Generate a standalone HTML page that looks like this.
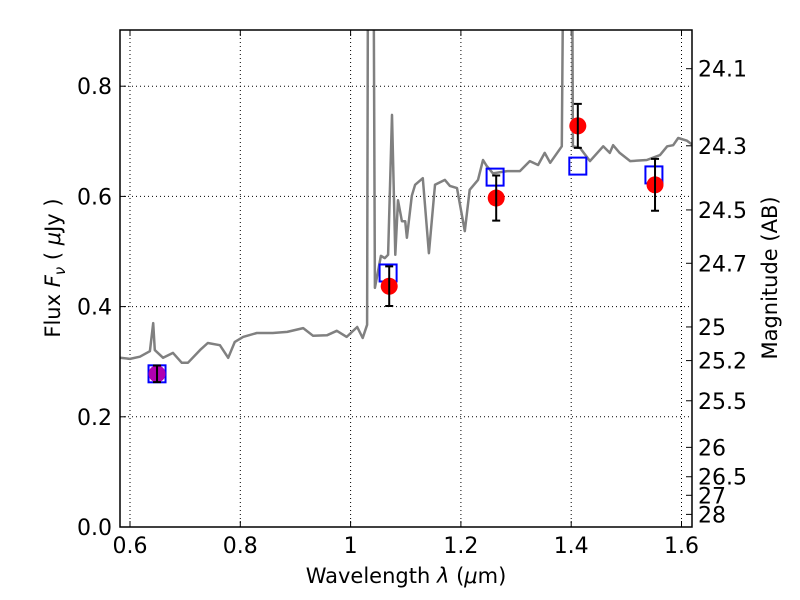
<!DOCTYPE html>
<html><head><meta charset="utf-8">
<style>
html,body{margin:0;padding:0;background:#fff;}
svg{display:block;font-family:"DejaVu Sans","Liberation Sans",sans-serif;}
</style></head>
<body>
<svg id="chart" width="800" height="600" xmlns="http://www.w3.org/2000/svg">
<rect width="800" height="600" fill="#fff"/>
</svg>
<script>
const specLam=[0.582,0.600,0.618,0.636,0.642,0.645,0.660,0.678,0.694,0.705,0.727,0.741,0.763,0.778,0.790,0.805,0.830,0.859,0.885,0.914,0.932,0.957,0.975,0.993,1.012,1.022,1.030,1.032,1.041,1.044,1.055,1.062,1.068,1.075,1.081,1.086,1.093,1.099,1.102,1.111,1.117,1.131,1.142,1.153,1.171,1.180,1.193,1.207,1.216,1.231,1.240,1.247,1.258,1.284,1.307,1.325,1.340,1.352,1.362,1.383,1.387,1.401,1.403,1.416,1.434,1.458,1.470,1.476,1.488,1.507,1.537,1.561,1.574,1.585,1.594,1.610,1.621];
const specFlux=[0.307,0.305,0.309,0.319,0.370,0.321,0.307,0.316,0.298,0.298,0.321,0.334,0.330,0.307,0.336,0.345,0.352,0.352,0.354,0.361,0.347,0.348,0.356,0.345,0.363,0.343,0.367,1.2,1.2,0.434,0.492,0.488,0.494,0.748,0.494,0.593,0.555,0.555,0.525,0.601,0.621,0.633,0.497,0.621,0.630,0.619,0.615,0.537,0.612,0.630,0.666,0.655,0.642,0.646,0.646,0.664,0.657,0.679,0.661,0.691,1.2,1.2,0.691,0.688,0.664,0.691,0.679,0.693,0.679,0.664,0.666,0.675,0.691,0.693,0.706,0.701,0.693];
const obsLam=[0.649,1.070,1.264,1.412,1.552];
const obsFlux=[0.278,0.437,0.597,0.728,0.621];
const obsErr=[0.015,0.036,0.041,0.040,0.047];
const obsColor=['#b000b0','red','red','red','red'];
const modLam=[0.649,1.068,1.262,1.412,1.550];
const modFlux=[0.278,0.461,0.635,0.655,0.639];
const xTicks=[0.6,0.8,1.0,1.2,1.4,1.6];
const xTickLabels=['0.6','0.8','1','1.2','1.4','1.6'];
const yTicks=[0.0,0.2,0.4,0.6,0.8];
const yTickLabels=['0.0','0.2','0.4','0.6','0.8'];
const magTicks=[24.1,24.3,24.5,24.7,25,25.2,25.5,26,26.5,27,28];

const L=120,R=692,T=30,B=527;
const X=v=>130+(v-0.6)*551.5;
const Y=v=>527-v*551;
const svg=document.getElementById('chart');
const NS='http://www.w3.org/2000/svg';
function el(tag,attrs,parent){const e=document.createElementNS(NS,tag);for(const k in attrs)e.setAttribute(k,attrs[k]);(parent||svg).appendChild(e);return e;}

const defs=el('defs',{});
const cp=el('clipPath',{id:'clip'},defs);
el('rect',{x:L,y:T,width:R-L,height:B-T},cp);

xTicks.forEach((v,i)=>{
 const g=el('line',{x1:X(v),x2:X(v),y1:T,y2:B,stroke:'#000','stroke-width':1,'stroke-dasharray':'1,3'});
 
 
 el('line',{x1:X(v),x2:X(v),y1:B,y2:B-6,stroke:'#000'});
 el('line',{x1:X(v),x2:X(v),y1:T,y2:T+6,stroke:'#000'});
 const t=el('text',{x:X(v),y:B+26,'font-size':22,'text-anchor':'middle'});
 t.textContent=xTickLabels[i];
 
 
});
yTicks.forEach((v,i)=>{
 const g=el('line',{x1:L,x2:R,y1:Y(v),y2:Y(v),stroke:'#000','stroke-width':1,'stroke-dasharray':'1,3'});
 
 
 el('line',{x1:L,x2:L+6,y1:Y(v),y2:Y(v),stroke:'#000'});
 const t=el('text',{x:L-8,y:Y(v)+8,'font-size':22,'text-anchor':'end'});
 t.textContent=yTickLabels[i];
 
 
});
magTicks.forEach(m=>{
 const f=Math.pow(10,(23.9-m)/2.5);
 const y=Y(f);
 el('line',{x1:R,x2:R-6,y1:y,y2:y,stroke:'#000'});
 const t=el('text',{x:R+6,y:y+8,'font-size':22});
 t.textContent=String(m);
 
 
});

const g=el('g',{'clip-path':'url(#clip)'});
const pts=specLam.map((l,i)=>X(l).toFixed(1)+','+Y(specFlux[i]).toFixed(1)).join(' ');
const sp=el('polyline',{points:pts,fill:'none',stroke:'#808080','stroke-width':2.5,'stroke-linejoin':'round'},g);



modLam.forEach((l,i)=>{
 const r=el('rect',{x:X(l)-8.5,y:Y(modFlux[i])-8.5,width:17,height:17,fill:'none',stroke:'#0000ff','stroke-width':2},g);
 
 
});
obsLam.forEach((l,i)=>{
 const c=el('circle',{cx:X(l),cy:Y(obsFlux[i]),r:8.5,fill:obsColor[i]},g);
 
 
 const x=X(l),y1=Y(obsFlux[i]+obsErr[i]),y2=Y(obsFlux[i]-obsErr[i]);
 const e=el('path',{d:`M${x},${y1}V${y2}M${x-4},${y1}H${x+4}M${x-4},${y2}H${x+4}`,stroke:'#000','stroke-width':2,fill:'none'},g);
 
 
});

const fr=el('rect',{x:L,y:T,width:R-L,height:B-T,fill:'none',stroke:'#000','stroke-width':1.5});



const xl=el('text',{x:406,y:583,'font-size':21,'text-anchor':'middle'});
xl.innerHTML='Wavelength  <tspan font-style="italic">λ</tspan> (<tspan font-style="italic">μ</tspan>m)';


const yl=el('text',{x:0,y:0,'font-size':21,'text-anchor':'middle',transform:'translate(60,268) rotate(-90)'});
yl.innerHTML='Flux  <tspan font-style="italic">F</tspan><tspan font-style="italic" font-size="15" dy="5">ν</tspan><tspan dy="-5">  ( </tspan><tspan font-style="italic">μ</tspan>Jy )';


const ml=el('text',{x:0,y:0,'font-size':21,'text-anchor':'middle',transform:'translate(777,278) rotate(-90)'});
ml.textContent='Magnitude (AB)';


</script>
</body></html>
